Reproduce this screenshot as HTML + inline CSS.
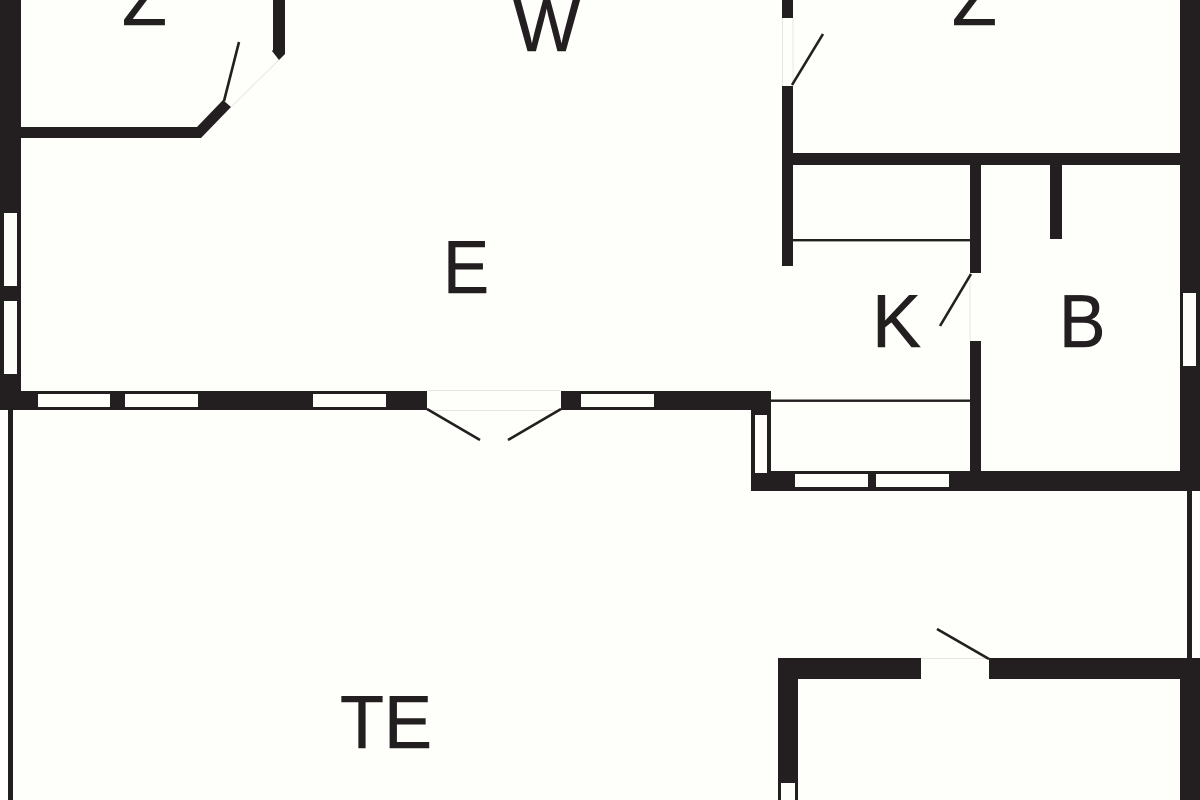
<!DOCTYPE html>
<html>
<head>
<meta charset="utf-8">
<style>
html,body{margin:0;padding:0;background:#fefefa;}
svg{display:block;}
text{font-family:"Liberation Sans",sans-serif;font-size:75px;fill:#231f20;stroke:#231f20;stroke-width:.6;}
</style>
</head>
<body>
<svg width="1200" height="800" viewBox="0 0 1200 800" xmlns="http://www.w3.org/2000/svg">
<rect width="1200" height="800" fill="#fefefa"/>
<g fill="#231f20">
  <!-- left wall and top-left room -->
  <rect x="0" y="0" width="21" height="410"/>
  <polygon points="21,127 197,127 223,100 231,107 201,138 21,138"/>
  <polygon points="273,0 285,0 285,54 279,60 272,51 273,50"/>
  <!-- horizontal wall -->
  <rect x="0" y="391" width="427" height="19"/>
  <rect x="561" y="391" width="210" height="19"/>
  <!-- kitchen outer -->
  <rect x="751" y="391" width="20" height="100"/>
  <rect x="751" y="471" width="449" height="20"/>
  <!-- middle wall -->
  <rect x="782" y="0" width="11" height="18"/>
  <rect x="782" y="86" width="11" height="180"/>
  <rect x="782" y="153" width="418" height="12"/>
  <rect x="970" y="153" width="11" height="120"/>
  <rect x="970" y="341" width="11" height="135"/>
  <rect x="1050" y="160" width="12" height="79"/>
  <!-- right wall -->
  <rect x="1180" y="0" width="20" height="491"/>
  <!-- thin walls -->
  <rect x="8" y="410" width="5" height="390"/>
  <rect x="1187" y="491" width="5" height="170"/>
  <rect x="793" y="239" width="177" height="2.4"/>
  <rect x="771" y="399.5" width="199" height="2.4"/>
  <!-- bottom room -->
  <rect x="778" y="658" width="143" height="21"/>
  <rect x="989" y="658" width="211" height="21"/>
  <rect x="778" y="658" width="20" height="142"/>
  <rect x="1180" y="658" width="20" height="142"/>
</g>
<!-- windows -->
<g fill="#fefefa">
  <rect x="4" y="213" width="13" height="73"/>
  <rect x="4" y="301" width="13" height="73"/>
  <rect x="38" y="394" width="72" height="13"/>
  <rect x="125" y="394" width="73" height="13"/>
  <rect x="313" y="394" width="73" height="13"/>
  <rect x="581" y="394" width="73" height="13"/>
  <rect x="755" y="415" width="12" height="58"/>
  <rect x="795" y="474" width="73" height="13"/>
  <rect x="876" y="474" width="73" height="13"/>
  <rect x="1183" y="293" width="13" height="73"/>
  <rect x="781" y="783" width="14" height="17"/>
</g>
<!-- faint door thresholds -->
<g stroke="#e6e6e2" stroke-width="1" fill="none">
  <path d="M231,107 L279,60"/>
  <path d="M427,390.5 H561 M427,410.5 H561"/>
  <path d="M782.5,18 V86 M793,18 V86"/>
  <path d="M921,658.5 H989"/>
  <path d="M970,273 V341"/>
</g>
<!-- door leaves -->
<g stroke="#231f20" stroke-width="2.6" fill="none">
  <path d="M224,101 L239,42"/>
  <path d="M427,409 L480,440"/>
  <path d="M561,409 L508,440"/>
  <path d="M792,85 L823,34"/>
  <path d="M971,274 L940,326"/>
  <path d="M989,659 L937,629"/>
</g>
<!-- labels -->
<text transform="translate(122 25) scale(.98 1)">Z</text>
<text transform="translate(513 51) scale(.95 1)">W</text>
<text transform="translate(952 25) scale(.98 1)">Z</text>
<text transform="translate(443 293) scale(.92 1)">E</text>
<text transform="translate(872 347) scale(.98 1)">K</text>
<text transform="translate(1059 347) scale(.93 1)">B</text>
<text transform="translate(340 748) scale(.96 1)">TE</text>
</svg>
</body>
</html>
